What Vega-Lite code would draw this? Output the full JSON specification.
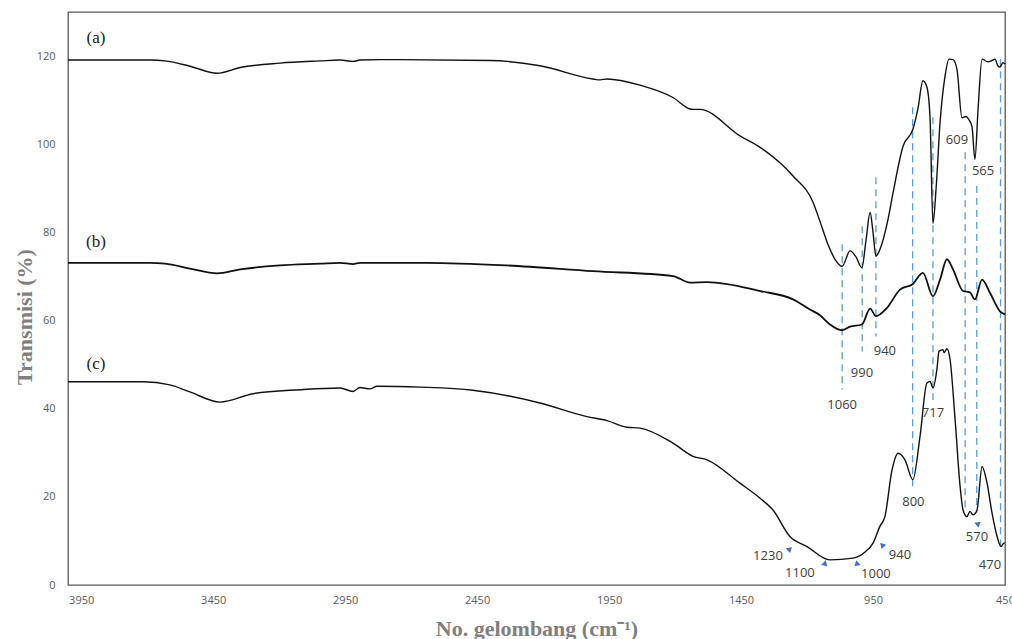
{
  "$schema": "https://vega.github.io/schema/vega-lite/v6.json",
  "width": 937,
  "height": 573,
  "autosize": {"type": "none"},
  "padding": {"left": 68, "top": 12, "right": 7, "bottom": 54},
  "background": "white",
  "config": {
    "view": {"stroke": "#595959", "strokeWidth": 1.3},
    "axis": {"grid": false, "ticks": false, "domain": false}
  },
  "datasets": {
    "spectra": [
      {"s": "a", "wn": 4000, "T": 119.1}, {"s": "a", "wn": 3689, "T": 119.1}, {"s": "a", "wn": 3632, "T": 118.9},
      {"s": "a", "wn": 3538, "T": 117.7}, {"s": "a", "wn": 3435, "T": 116.1}, {"s": "a", "wn": 3348, "T": 117.4},
      {"s": "a", "wn": 3197, "T": 118.4}, {"s": "a", "wn": 3045, "T": 118.9}, {"s": "a", "wn": 2969, "T": 119.1},
      {"s": "a", "wn": 2920, "T": 118.8}, {"s": "a", "wn": 2894, "T": 119.1}, {"s": "a", "wn": 2818, "T": 119.2},
      {"s": "a", "wn": 2401, "T": 119.0}, {"s": "a", "wn": 2212, "T": 117.8}, {"s": "a", "wn": 2011, "T": 114.8},
      {"s": "a", "wn": 1984, "T": 114.6}, {"s": "a", "wn": 1958, "T": 114.8}, {"s": "a", "wn": 1833, "T": 113.4},
      {"s": "a", "wn": 1708, "T": 110.6}, {"s": "a", "wn": 1643, "T": 108.0}, {"s": "a", "wn": 1632, "T": 107.9},
      {"s": "a", "wn": 1606, "T": 107.9}, {"s": "a", "wn": 1454, "T": 101.9}, {"s": "a", "wn": 1378, "T": 99.3},
      {"s": "a", "wn": 1253, "T": 92.8}, {"s": "a", "wn": 1177, "T": 86.8}, {"s": "a", "wn": 1151, "T": 82.5},
      {"s": "a", "wn": 1121, "T": 77.3}, {"s": "a", "wn": 1094, "T": 73.9}, {"s": "a", "wn": 1067, "T": 72.3},
      {"s": "a", "wn": 1037, "T": 75.8}, {"s": "a", "wn": 1015, "T": 74.5}, {"s": "a", "wn": 992, "T": 72.0},
      {"s": "a", "wn": 977, "T": 78.0}, {"s": "a", "wn": 961, "T": 84.5}, {"s": "a", "wn": 950, "T": 80.0},
      {"s": "a", "wn": 939, "T": 74.6}, {"s": "a", "wn": 924, "T": 76.1}, {"s": "a", "wn": 893, "T": 83.0},
      {"s": "a", "wn": 874, "T": 89.0}, {"s": "a", "wn": 836, "T": 99.6}, {"s": "a", "wn": 799, "T": 103.4},
      {"s": "a", "wn": 780, "T": 108.0}, {"s": "a", "wn": 761, "T": 114.4}, {"s": "a", "wn": 746, "T": 113.0},
      {"s": "a", "wn": 734, "T": 106.0}, {"s": "a", "wn": 723, "T": 82.0}, {"s": "a", "wn": 711, "T": 90.0},
      {"s": "a", "wn": 696, "T": 105.0}, {"s": "a", "wn": 677, "T": 115.5}, {"s": "a", "wn": 662, "T": 119.3},
      {"s": "a", "wn": 647, "T": 119.2}, {"s": "a", "wn": 632, "T": 117.0}, {"s": "a", "wn": 613, "T": 106.0},
      {"s": "a", "wn": 598, "T": 106.3}, {"s": "a", "wn": 586, "T": 105.5}, {"s": "a", "wn": 575, "T": 104.0},
      {"s": "a", "wn": 564, "T": 96.6}, {"s": "a", "wn": 552, "T": 108.0}, {"s": "a", "wn": 537, "T": 119.3},
      {"s": "a", "wn": 515, "T": 118.7}, {"s": "a", "wn": 499, "T": 119.0}, {"s": "a", "wn": 488, "T": 119.3},
      {"s": "a", "wn": 477, "T": 117.8}, {"s": "a", "wn": 469, "T": 117.5}, {"s": "a", "wn": 458, "T": 118.5},
      {"s": "a", "wn": 450, "T": 118.2},

      {"s": "b", "wn": 4000, "T": 73.1}, {"s": "b", "wn": 3689, "T": 73.1}, {"s": "b", "wn": 3632, "T": 72.9},
      {"s": "b", "wn": 3538, "T": 71.8}, {"s": "b", "wn": 3435, "T": 70.7}, {"s": "b", "wn": 3348, "T": 71.6},
      {"s": "b", "wn": 3197, "T": 72.5}, {"s": "b", "wn": 3045, "T": 72.9}, {"s": "b", "wn": 2969, "T": 73.1},
      {"s": "b", "wn": 2920, "T": 72.8}, {"s": "b", "wn": 2894, "T": 73.1}, {"s": "b", "wn": 2640, "T": 73.1},
      {"s": "b", "wn": 2337, "T": 72.5}, {"s": "b", "wn": 2011, "T": 71.2}, {"s": "b", "wn": 1708, "T": 70.1},
      {"s": "b", "wn": 1643, "T": 68.6}, {"s": "b", "wn": 1579, "T": 68.7}, {"s": "b", "wn": 1378, "T": 66.7},
      {"s": "b", "wn": 1253, "T": 64.8}, {"s": "b", "wn": 1189, "T": 62.5}, {"s": "b", "wn": 1151, "T": 61.2},
      {"s": "b", "wn": 1113, "T": 59.1}, {"s": "b", "wn": 1067, "T": 57.8}, {"s": "b", "wn": 1037, "T": 58.6},
      {"s": "b", "wn": 992, "T": 59.1}, {"s": "b", "wn": 961, "T": 62.7}, {"s": "b", "wn": 939, "T": 61.0},
      {"s": "b", "wn": 897, "T": 62.9}, {"s": "b", "wn": 848, "T": 67.0}, {"s": "b", "wn": 799, "T": 68.3},
      {"s": "b", "wn": 761, "T": 70.8}, {"s": "b", "wn": 723, "T": 65.5}, {"s": "b", "wn": 696, "T": 69.3},
      {"s": "b", "wn": 670, "T": 73.9}, {"s": "b", "wn": 647, "T": 71.6}, {"s": "b", "wn": 609, "T": 66.7},
      {"s": "b", "wn": 583, "T": 66.4}, {"s": "b", "wn": 564, "T": 64.8}, {"s": "b", "wn": 537, "T": 69.3},
      {"s": "b", "wn": 507, "T": 66.3}, {"s": "b", "wn": 469, "T": 62.1}, {"s": "b", "wn": 450, "T": 61.4},

      {"s": "c", "wn": 4000, "T": 46.1}, {"s": "c", "wn": 3716, "T": 46.1}, {"s": "c", "wn": 3614, "T": 45.4},
      {"s": "c", "wn": 3538, "T": 43.8}, {"s": "c", "wn": 3424, "T": 41.5}, {"s": "c", "wn": 3299, "T": 43.4},
      {"s": "c", "wn": 3121, "T": 44.3}, {"s": "c", "wn": 2969, "T": 44.7}, {"s": "c", "wn": 2920, "T": 43.9},
      {"s": "c", "wn": 2894, "T": 44.8}, {"s": "c", "wn": 2856, "T": 44.5}, {"s": "c", "wn": 2829, "T": 45.1},
      {"s": "c", "wn": 2666, "T": 44.9}, {"s": "c", "wn": 2466, "T": 44.2}, {"s": "c", "wn": 2212, "T": 41.3},
      {"s": "c", "wn": 2034, "T": 38.2}, {"s": "c", "wn": 1958, "T": 37.3}, {"s": "c", "wn": 1882, "T": 35.8},
      {"s": "c", "wn": 1833, "T": 35.6}, {"s": "c", "wn": 1708, "T": 32.2}, {"s": "c", "wn": 1632, "T": 29.2},
      {"s": "c", "wn": 1579, "T": 28.4}, {"s": "c", "wn": 1454, "T": 23.1}, {"s": "c", "wn": 1378, "T": 19.7},
      {"s": "c", "wn": 1329, "T": 17.0}, {"s": "c", "wn": 1265, "T": 11.0}, {"s": "c", "wn": 1200, "T": 8.7},
      {"s": "c", "wn": 1113, "T": 5.7}, {"s": "c", "wn": 1026, "T": 6.1}, {"s": "c", "wn": 980, "T": 7.5},
      {"s": "c", "wn": 950, "T": 9.5}, {"s": "c", "wn": 924, "T": 13.3}, {"s": "c", "wn": 905, "T": 15.5},
      {"s": "c", "wn": 878, "T": 26.1}, {"s": "c", "wn": 855, "T": 29.9}, {"s": "c", "wn": 829, "T": 28.4},
      {"s": "c", "wn": 799, "T": 23.9}, {"s": "c", "wn": 772, "T": 33.7}, {"s": "c", "wn": 746, "T": 45.8},
      {"s": "c", "wn": 734, "T": 46.2}, {"s": "c", "wn": 723, "T": 44.7}, {"s": "c", "wn": 708, "T": 48.9},
      {"s": "c", "wn": 700, "T": 53.0}, {"s": "c", "wn": 685, "T": 53.4}, {"s": "c", "wn": 681, "T": 52.7},
      {"s": "c", "wn": 670, "T": 53.6}, {"s": "c", "wn": 658, "T": 51.1}, {"s": "c", "wn": 639, "T": 37.5},
      {"s": "c", "wn": 620, "T": 22.3}, {"s": "c", "wn": 609, "T": 17.0}, {"s": "c", "wn": 594, "T": 15.5},
      {"s": "c", "wn": 583, "T": 16.7}, {"s": "c", "wn": 571, "T": 15.9}, {"s": "c", "wn": 556, "T": 17.0},
      {"s": "c", "wn": 537, "T": 26.9}, {"s": "c", "wn": 518, "T": 23.1}, {"s": "c", "wn": 499, "T": 16.3},
      {"s": "c", "wn": 480, "T": 11.0}, {"s": "c", "wn": 465, "T": 8.7}, {"s": "c", "wn": 454, "T": 9.5},
      {"s": "c", "wn": 450, "T": 9.5}
    ],
    "dashes": [
      {"wn": 1067, "T1": 77.3, "T2": 44.3},
      {"wn": 991, "T1": 81.4, "T2": 53.0},
      {"wn": 939, "T1": 92.5, "T2": 56.4},
      {"wn": 800, "T1": 108.4, "T2": 22.3},
      {"wn": 723, "T1": 106.1, "T2": 42.0},
      {"wn": 601, "T1": 98.2, "T2": 17.0},
      {"wn": 557, "T1": 90.5, "T2": 16.4},
      {"wn": 467, "T1": 119.3, "T2": 8.0}
    ],
    "peaks": [
      {"wn": 632, "T": 100.9, "lab": "609"},
      {"wn": 533, "T": 93.9, "lab": "565"},
      {"wn": 905, "T": 53.0, "lab": "940"},
      {"wn": 992, "T": 48.2, "lab": "990"},
      {"wn": 1067, "T": 40.9, "lab": "1060"},
      {"wn": 723, "T": 39.1, "lab": "717"},
      {"wn": 797, "T": 18.8, "lab": "800"},
      {"wn": 556, "T": 11.0, "lab": "570"},
      {"wn": 507, "T": 4.5, "lab": "470"},
      {"wn": 1348, "T": 6.6, "lab": "1230"},
      {"wn": 1227, "T": 2.7, "lab": "1100"},
      {"wn": 939, "T": 2.5, "lab": "1000"},
      {"wn": 848, "T": 6.8, "lab": "940"}
    ],
    "arrows": [
      {"wn": 1265, "T": 8.2, "lab": "1230"},
      {"wn": 1132, "T": 5.0, "lab": "1100"},
      {"wn": 1011, "T": 5.0, "lab": "1000"},
      {"wn": 916, "T": 9.1, "lab": "940"},
      {"wn": 556, "T": 13.9, "lab": "570"}
    ],
    "series": [
      {"wn": 3894, "T": 124.0, "lab": "(a)"},
      {"wn": 3894, "T": 77.8, "lab": "(b)"},
      {"wn": 3894, "T": 50.2, "lab": "(c)"}
    ]
  },
  "layer": [
    {
      "data": {"name": "dashes"},
      "mark": {"type": "rule", "color": "#5B9BD5", "strokeWidth": 1.3, "strokeDash": [7, 5]},
      "encoding": {
        "x": {"field": "wn", "type": "quantitative"},
        "y": {"field": "T1", "type": "quantitative"},
        "y2": {"field": "T2"}
      }
    },
    {
      "data": {"name": "spectra"},
      "transform": [{"filter": "datum.s !== 'b'"}],
      "mark": {"type": "line", "color": "#111111", "strokeWidth": 1.4, "interpolate": "monotone"},
      "encoding": {
        "x": {"field": "wn", "type": "quantitative"},
        "y": {"field": "T", "type": "quantitative"},
        "detail": {"field": "s"}
      }
    },
    {
      "data": {"name": "spectra"},
      "transform": [{"filter": "datum.s === 'b'"}],
      "mark": {"type": "line", "color": "#111111", "strokeWidth": 1.8, "interpolate": "monotone"},
      "encoding": {
        "x": {"field": "wn", "type": "quantitative"},
        "y": {"field": "T", "type": "quantitative"}
      }
    },
    {
      "data": {"name": "arrows"},
      "mark": {"type": "point", "shape": "triangle-up", "filled": true, "color": "#4472C4", "opacity": 1, "size": 40},
      "encoding": {
        "x": {"field": "wn", "type": "quantitative"},
        "y": {"field": "T", "type": "quantitative"},
        "angle": {"field": "lab", "type": "nominal", "scale": {"domain": ["1230", "1100", "1000", "940", "570"], "range": [45, -70, 70, -45, 0]}, "legend": null}
      }
    },
    {
      "data": {"name": "peaks"},
      "mark": {"type": "text", "font": "Open Sans", "fontSize": 13, "color": "#404040", "align": "center", "baseline": "middle"},
      "encoding": {
        "x": {"field": "wn", "type": "quantitative"},
        "y": {"field": "T", "type": "quantitative"},
        "text": {"field": "lab"}
      }
    },
    {
      "data": {"name": "series"},
      "mark": {"type": "text", "font": "Liberation Serif", "fontSize": 17, "color": "#222222", "align": "center", "baseline": "middle"},
      "encoding": {
        "x": {
          "field": "wn", "type": "quantitative",
          "scale": {"domain": [450, 4000], "reverse": true, "nice": false, "zero": false},
          "axis": {
            "title": "No. gelombang (cm⁻¹)",
            "values": [3950, 3450, 2950, 2450, 1950, 1450, 950, 450],
            "format": "d",
            "labelFont": "Open Sans", "labelFontSize": 11, "labelColor": "#595959",
            "labelPadding": 9, "labelFlush": false, "labelOverlap": false,
            "titleFont": "Liberation Serif", "titleFontSize": 22, "titleFontWeight": "bold", "titleColor": "#7f7f7f",
            "titleX": 468.5, "titleY": 50, "titleAlign": "center", "titleBaseline": "alphabetic"
          }
        },
        "y": {
          "field": "T", "type": "quantitative",
          "scale": {"domain": [0, 130], "nice": false},
          "axis": {
            "title": "Transmisi (%)",
            "values": [0, 20, 40, 60, 80, 100, 120],
            "labelFont": "Open Sans", "labelFontSize": 11, "labelColor": "#595959",
            "labelPadding": 13,
            "titleFont": "Liberation Serif", "titleFontSize": 22, "titleFontWeight": "bold", "titleColor": "#7f7f7f",
            "titleX": -44, "titleY": 304.5, "titleAngle": 270, "titleAlign": "center", "titleBaseline": "middle"
          }
        },
        "text": {"field": "lab"}
      }
    }
  ]
}
